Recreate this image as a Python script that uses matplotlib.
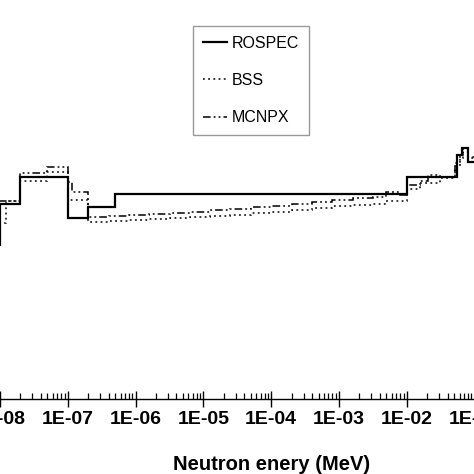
import matplotlib
matplotlib.use("Agg")
import matplotlib.pyplot as plt
from matplotlib.lines import Line2D
from matplotlib.ticker import LogLocator, FuncFormatter, NullFormatter
import numpy as np

plt.rcParams['font.family'] = ['Liberation Sans', 'DejaVu Sans']

# Energy bin edges (MeV) and relative fluence values
rospec_edges = [3.2e-9, 1e-8, 1.95e-8, 1e-7, 2.0e-7, 4.9e-7, 1e-2, 0.055, 0.065, 0.081, 0.126]
rospec_vals = [1.54, 1.95, 2.22, 1.81, 1.92, 2.05, 2.22, 2.44, 2.51, 2.37]

bss_edges = [3.2e-9, 1.23e-8, 1.95e-8, 4.9e-8, 1e-7, 2e-7, 4e-7, 7.9e-7, 1.6e-6, 3.2e-6,
             6.3e-6, 1.26e-5, 2.5e-5, 5e-5, 1e-4, 2e-4, 4e-4, 7.9e-4, 1.6e-3, 3.2e-3,
             5e-3, 1e-2, 0.0158, 0.031, 0.051, 0.060, 0.068, 0.081, 0.126]
bss_vals = [1.76, 1.98, 2.18, 2.27, 1.99, 1.77, 1.78, 1.79, 1.80, 1.81, 1.82, 1.83, 1.84,
            1.86, 1.87, 1.89, 1.91, 1.93, 1.94, 1.95, 1.98, 2.10, 2.16, 2.21, 2.33, 2.41,
            2.47, 2.42]

mcnpx_edges = [3.2e-9, 1.95e-8, 4.9e-8, 1e-7, 1.17e-7, 2.0e-7, 4e-7, 7.9e-7, 1.6e-6, 3.2e-6,
               6.3e-6, 1.26e-5, 2.5e-5, 5e-5, 1e-4, 2e-4, 4e-4, 7.9e-4, 1.6e-3, 3.2e-3,
               5e-3, 7.9e-3, 1e-2, 0.0158, 0.0204, 0.031, 0.051, 0.060, 0.068, 0.081, 0.126]
mcnpx_vals = [1.98, 2.26, 2.32, 2.17, 2.07, 1.82, 1.83, 1.84, 1.85, 1.86, 1.87, 1.89, 1.90,
              1.92, 1.93, 1.95, 1.97, 1.99, 2.01, 2.02, 2.07, 2.04, 2.14, 2.18, 2.24, 2.22,
              2.36, 2.44, 2.51, 2.41]

labels = ["ROSPEC", "BSS", "MCNPX"]

W = H = 474
fig = plt.figure(figsize=(W / 100, H / 100), dpi=100)
decade = 67.8
x_left_px = -decade          # position of 1E-09
ax = fig.add_axes([x_left_px / W, (H - 399) / H, 10 * decade / W, 400 / H])
ax.set_xscale('log')
ax.set_xlim(1e-9, 1e1)
ax.set_ylim(0, 4)

ax.stairs(rospec_vals, rospec_edges, color='black', lw=1.6, baseline=None)
ax.stairs(bss_vals, bss_edges, color='black', lw=1.1, linestyle=(0, (1.2, 2.2)), baseline=None)
ax.stairs(mcnpx_vals, mcnpx_edges, color='black', lw=1.1,
          linestyle=(0, (5, 2, 1.2, 2, 1.2, 2)), baseline=None)

for s in ['top', 'right', 'left']:
    ax.spines[s].set_visible(False)
ax.spines['bottom'].set_linewidth(1.0)
ax.yaxis.set_visible(False)

ax.xaxis.set_major_locator(LogLocator(base=10, numticks=20))
ax.xaxis.set_minor_locator(LogLocator(base=10, subs=np.arange(2, 10), numticks=100))
ax.xaxis.set_minor_formatter(NullFormatter())
ax.xaxis.set_major_formatter(FuncFormatter(
    lambda v, p: "1E%s%02d" % ('-' if np.log10(v) < 0 else '+', abs(int(round(np.log10(v)))))))
ax.tick_params(axis='x', which='major', direction='inout', length=12, width=1.0,
               labelsize=14, pad=3)
ax.tick_params(axis='x', which='minor', direction='in', length=4, width=0.9)
for t in ax.get_xticklabels():
    t.set_fontweight('bold')

ax.set_xlabel("Neutron enery (MeV)", fontsize=14.5, fontweight='bold', labelpad=19)

handles = [
    Line2D([], [], color='black', lw=1.6),
    Line2D([], [], color='black', lw=1.1, linestyle=(0, (1.2, 2.2))),
    Line2D([], [], color='black', lw=1.1, linestyle=(0, (5, 2, 1.2, 2, 1.2, 2))),
]
leg = ax.legend(handles, labels, loc='upper left', bbox_to_anchor=(193 / W, 1 - 26 / H),
                bbox_transform=fig.transFigure, borderaxespad=0, fontsize=11.5,
                frameon=True, fancybox=False, edgecolor='#808080', handlelength=1.55,
                handletextpad=0.3, labelspacing=1.4, borderpad=0.6)
leg.get_frame().set_linewidth(1.0)

fig.savefig("out.png", dpi=100)
